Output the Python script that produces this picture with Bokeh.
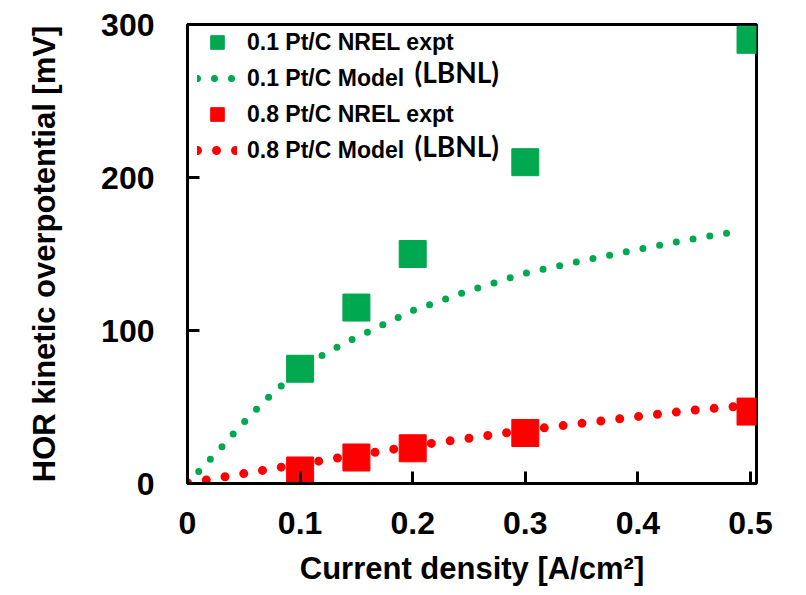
from bokeh.plotting import figure
from bokeh.models import Range1d, Legend, LegendItem, Label, FixedTicker
from bokeh.embed import file_html
from bokeh.resources import INLINE

# ---- data ----
x_expt = [0.1, 0.15, 0.2, 0.3, 0.5]
pt01_expt = [75, 115, 150, 210, 290]
pt08_expt = [8.5, 17, 23, 33, 47]

x_model_01 = [0.01, 0.02, 0.03, 0.04, 0.05, 0.06, 0.07, 0.08, 0.10, 0.12, 0.14,
              0.16, 0.20, 0.25, 0.30, 0.35, 0.40, 0.45, 0.49]
pt01_model = [7.8, 15.7, 23.5, 32, 40, 47.5, 55, 62, 73, 84, 92,
              99, 113, 126, 137.5, 145.5, 153, 160, 165]

x_model_08 = [0.0, 0.02, 0.04, 0.06, 0.08, 0.10, 0.12, 0.14, 0.17, 0.20,
              0.25, 0.30, 0.35, 0.40, 0.45, 0.49]
pt08_model = [0.5, 2.7, 5.3, 7.7, 10.3, 12.6, 15, 17.5, 20.8, 24.5,
              29.6, 34.9, 39.3, 43.8, 48, 50.5]

x_ticks = [0, 0.1, 0.2, 0.3, 0.4, 0.5]
y_ticks = [0, 100, 200, 300]

GREEN = "#00A84F"
RED = "#FF0000"
FONT = "Liberation Sans"

p = figure(width=800, height=590, output_backend="svg", toolbar_location=None,
           x_range=Range1d(0, 0.5053), y_range=Range1d(0, 300),
           min_border_left=187, min_border_right=44, min_border_top=24,
           min_border_bottom=107)

p.background_fill_color = "white"
p.border_fill_color = "white"
p.outline_line_color = "black"
p.outline_line_width = 3
p.grid.visible = False

g_model = p.line(x_model_01, pt01_model, line_color=GREEN, line_width=7,
                 line_dash="0 17", line_cap="round")
r_model = p.line(x_model_08, pt08_model, line_color=RED, line_width=9,
                 line_dash="0 19", line_cap="round")
g_expt = p.scatter(x_expt, pt01_expt, marker="square", size=27,
                   fill_color=GREEN, line_color=GREEN)
r_expt = p.scatter(x_expt, pt08_expt, marker="square", size=27,
                   fill_color=RED, line_color=RED)

for ax in (p.xaxis[0], p.yaxis[0]):
    ax.axis_line_color = "black"
    ax.axis_line_width = 3
    ax.major_tick_line_color = "black"
    ax.major_tick_line_width = 3
    ax.major_tick_in = 12
    ax.major_tick_out = 0
    ax.minor_tick_line_color = None
    ax.major_label_text_font = FONT
    ax.major_label_text_font_style = "bold"
    ax.major_label_text_font_size = "32px"
    ax.major_label_text_color = "black"
    ax.axis_label_text_font = FONT
    ax.axis_label_text_font_style = "bold"
    ax.axis_label_text_font_size = "31px"
    ax.axis_label_text_color = "black"

p.xaxis.ticker = FixedTicker(ticks=x_ticks)
p.yaxis.ticker = FixedTicker(ticks=y_ticks)
p.xaxis.major_label_overrides = {0: "0"}
p.xaxis.axis_label = "Current density [A/cm²]"
p.yaxis.axis_label = "HOR kinetic overpotential [mV]"
p.xaxis.major_label_standoff = 28
p.yaxis.major_label_standoff = 33
p.xaxis.axis_label_standoff = 14
p.yaxis.axis_label_standoff = 36

legend = Legend(items=[
    LegendItem(label="0.1 Pt/C NREL expt", renderers=[g_expt]),
    LegendItem(label="0.1 Pt/C Model", renderers=[g_model]),
    LegendItem(label="0.8 Pt/C NREL expt", renderers=[r_expt]),
    LegendItem(label="0.8 Pt/C Model", renderers=[r_model]),
], location=(10, 316), margin=0, padding=0, spacing=2,
    glyph_width=40, glyph_height=34, label_standoff=10, label_height=34,
    border_line_alpha=0, background_fill_alpha=0,
    label_text_font=FONT, label_text_font_style="bold",
    label_text_font_size="23px", label_text_color="black")
p.add_layout(legend)

for ypos in (412, 338):
    p.add_layout(Label(x=227, y=ypos, x_units="screen", y_units="screen",
                       text="(LBNL)", text_font="Lato", text_font_style="bold",
                       text_font_size="28px", text_color="black",
                       text_baseline="middle", text_align="left"))

open("out.html", "w").write(file_html(p, INLINE))
